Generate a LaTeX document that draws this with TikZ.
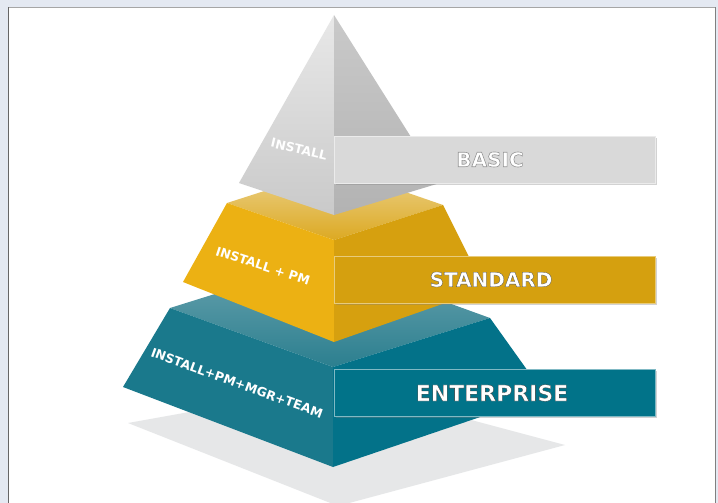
\documentclass[tikz,border=0pt]{standalone}
\usepackage{fontspec}
\setmainfont{DejaVu Sans}
\usetikzlibrary{shadows}
\definecolor{pagebg}{HTML}{E4E9F2}
\definecolor{floor}{HTML}{E6E7E8}
\definecolor{tealtop}{HTML}{6AA3AF}
\definecolor{tealfront}{HTML}{2C7F8F}
\definecolor{tealleft}{HTML}{1A798C}
\definecolor{tealright}{HTML}{037289}
\definecolor{goldtop}{HTML}{ECD38E}
\definecolor{goldfront}{HTML}{DCA923}
\definecolor{goldleft}{HTML}{ECB113}
\definecolor{goldright}{HTML}{D6A00F}
\definecolor{boxgray}{HTML}{D9D9D9}
\definecolor{boxgold}{HTML}{D5A00F}
\definecolor{boxteal}{HTML}{017389}
\newcommand\outlined[3]{\special{pdf:literal direct 2 Tr #2 G #3 w}#1\special{pdf:literal direct 0 Tr}}
\tikzset{
  tierbox/.style={minimum width=321pt, minimum height=47pt, inner sep=0pt, line width=0.8pt,
    drop shadow={shadow xshift=1.5pt, shadow yshift=-1.5pt, opacity=0.35},
    text=white, font=\bfseries\fontsize{21}{21}\selectfont},
  facelabel/.style={text=white, inner sep=0pt, font=\bfseries\fontsize{12.5}{12.5}\selectfont}
}
\begin{document}
\begin{tikzpicture}[x=1pt,y=-1pt]
            \useasboundingbox (0,0) rectangle (718,503);
            \fill[pagebg] (0,0) rectangle (718,503);
            \fill[white] (8,8) rectangle (715,503);
            \draw[gray!70,line width=1pt] (8,7.5) -- (715,7.5);
            \draw[black!60,line width=1pt] (8,7.5) -- (8,503);
            \draw[black!50,line width=1pt] (715,7.5) -- (715,503);
            \fill[floor] (128,423) -- (340,385) -- (565,445) -- (338,506) -- cycle;
            \shade[top color=tealtop, bottom color=tealfront] (170,308) -- (327,259) -- (490,318) -- (333,367) -- cycle;
            \fill[tealleft] (170,308) -- (333,367) -- (333,467) -- (123,387) -- cycle;
            \fill[tealright] (333,367) -- (490,318) -- (545,395) -- (333,467) -- cycle;
            \shade[top color=goldtop, bottom color=goldfront] (227,203) -- (336,168) -- (443,205) -- (334,240) -- cycle;
            \fill[goldleft] (227,203) -- (334,240) -- (334,342) -- (183,282) -- cycle;
            \fill[goldright] (334,240) -- (443,205) -- (485,289) -- (334,342) -- cycle;
            \shade[top color=black!9, bottom color=black!21] (334,15) -- (239,183) -- (334,215) -- cycle;
            \shade[top color=black!21, bottom color=black!30] (334,15) -- (440,183) -- (334,215) -- cycle;
            \node[facelabel,rotate=-13] (installlbl) at (299,149) {INSTALL};
            \node[facelabel,rotate=-18] (pmlbl) at (263,266) {INSTALL + PM};
            \node[facelabel,rotate=-20] (teamlbl) at (237,383) {INSTALL+PM+MGR+TEAM};
            \node[tierbox,fill=boxgray,draw=black!8,font=\bfseries\fontsize{20}{20}\selectfont] (basic) at (495,159.5) {\hspace*{-10pt}\outlined{BASIC}{0.58}{0.6}};
            \node[tierbox,fill=boxgold,draw=boxgold!55!white,font=\bfseries\fontsize{20}{20}\selectfont] (standard) at (494.5,279.5) {\hspace*{-7pt}\outlined{STANDARD}{0.3}{0.3}};
            \node[tierbox,fill=boxteal,draw=boxteal!50!white,font=\bfseries\fontsize{22}{22}\selectfont] (enterprise) at (494.5,393) {\hspace*{-5pt}\outlined{ENTERPRISE}{0.2}{0.3}};
         \end{tikzpicture}
\end{document}
